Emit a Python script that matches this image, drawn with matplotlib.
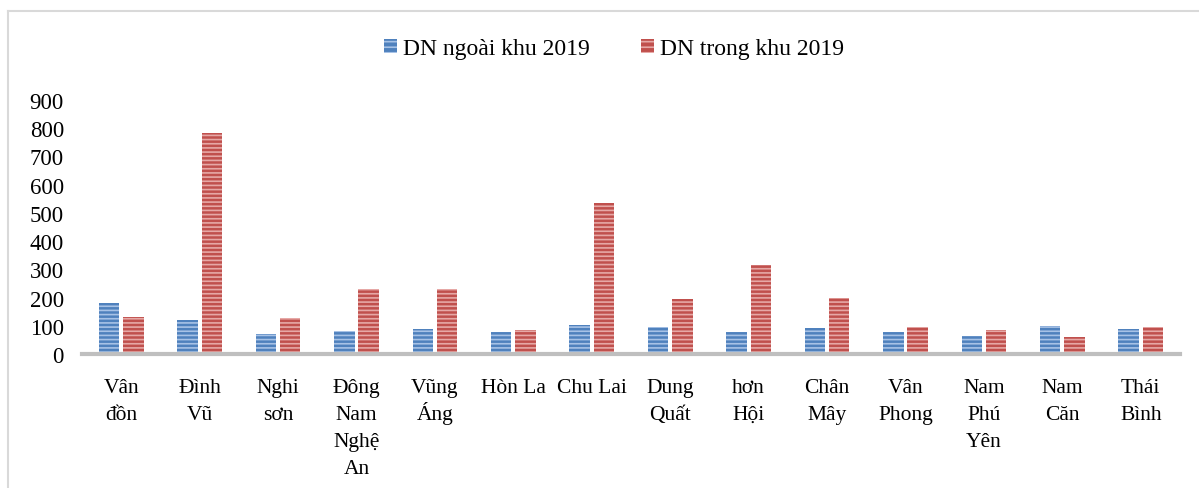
import matplotlib.pyplot as plt
import numpy as np
from matplotlib.lines import Line2D
from matplotlib.transforms import blended_transform_factory

plt.rcParams['font.family'] = ['Liberation Serif', 'DejaVu Serif']
plt.rcParams['hatch.linewidth'] = 1.2

# data
categories = ['Vân\nđồn', 'Đình\nVũ', 'Nghi\nsơn', 'Đông\nNam\nNghệ\nAn', 'Vũng\nÁng',
              'Hòn La', 'Chu Lai', 'Dung\nQuất', 'hơn\nHội', 'Chân\nMây',
              'Vân\nPhong', 'Nam\nPhú\nYên', 'Nam\nCăn', 'Thái\nBình']
ngoai_khu = [180, 120, 71, 82, 89, 78, 102, 96, 78, 92, 78, 65, 98, 88]
trong_khu = [130, 782, 126, 230, 230, 85, 534, 195, 317, 200, 97, 85, 62, 95]
series_names = ['DN ngoài khu 2019', 'DN trong khu 2019']

blue, blue_hatch = '#4F81BD', '#A7C2E6'
red, red_hatch = '#C0504D', '#E6A8A6'

W, H = 1199, 489
fig = plt.figure(figsize=(W / 100, H / 100), dpi=100)
ax = fig.add_axes([82 / W, 1 - 355 / H, 1098 / W, 254 / H])

x = np.arange(len(categories))
w = 0.26
ax.bar(x - 0.155, ngoai_khu, w, color=blue, edgecolor=blue_hatch, linewidth=0, hatch='----')
ax.bar(x + 0.155, trong_khu, w, color=red, edgecolor=red_hatch, linewidth=0, hatch='----')

ax.set_xlim(-0.5, len(categories) - 0.5)
ax.set_ylim(0, 900)
ax.set_yticks(range(0, 901, 100))
ax.set_xticks(x)
ax.set_xticklabels([])
ax.tick_params(axis='y', length=0, labelsize=16.5, pad=13)
ax.tick_params(axis='x', length=0)
for s in ['top', 'right', 'left']:
    ax.spines[s].set_visible(False)
ax.spines['bottom'].set_color('#BFBFBF')
ax.spines['bottom'].set_linewidth(3)

# category labels, one line at a time so every line keeps the same spacing
trans = blended_transform_factory(ax.transData, fig.transFigure)
for xi, label in zip(x, categories):
    for i, line in enumerate(label.split('\n')):
        ax.text(xi, 1 - (393 + 27 * i) / H, line, transform=trans, ha='center',
                va='baseline', fontsize=15.5)

handles = [plt.Rectangle((0, 0), 1, 1, facecolor=blue, edgecolor=blue_hatch, linewidth=0, hatch='---'),
           plt.Rectangle((0, 0), 1, 1, facecolor=red, edgecolor=red_hatch, linewidth=0, hatch='---')]
fig.legend(handles, series_names, loc='center', bbox_to_anchor=(0.512, 0.898), ncol=2,
           frameon=False, fontsize=17, handlelength=0.55, handleheight=0.55,
           handletextpad=0.25, columnspacing=2.2)

# outer chart border (cut off at bottom and right)
fig.add_artist(Line2D([8 / W, 8 / W], [0, 1 - 12 / H], transform=fig.transFigure,
                      color='#D9D9D9', linewidth=1.5))
fig.add_artist(Line2D([8 / W, 1], [1 - 12 / H, 1 - 12 / H], transform=fig.transFigure,
                      color='#D9D9D9', linewidth=1.5))

fig.savefig('out.png', dpi=100)
